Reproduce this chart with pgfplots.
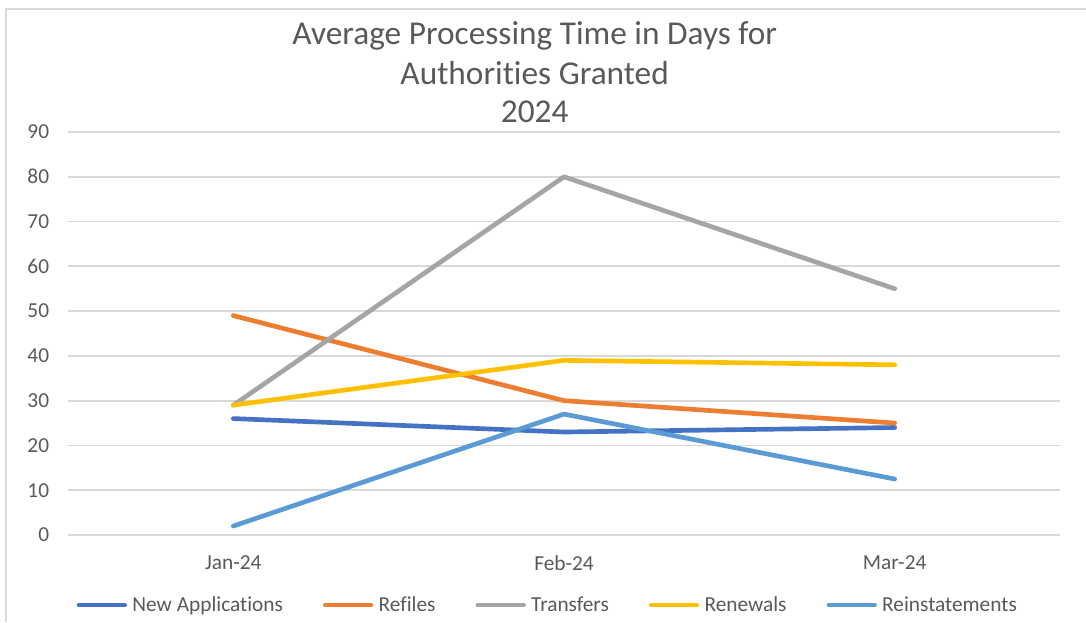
\documentclass[border=0pt]{standalone}
\usepackage{pgfplots}
\pgfplotsset{compat=1.18}
\usepackage{fontspec}
\setmainfont{Carlito}[Ligatures=NoCommon]
\definecolor{txt}{HTML}{595959}
\definecolor{gridc}{HTML}{D9D9D9}
\definecolor{cNew}{HTML}{4472C4}
\definecolor{cRef}{HTML}{ED7D31}
\definecolor{cTra}{HTML}{A5A5A5}
\definecolor{cRen}{HTML}{FFC000}
\definecolor{cRei}{HTML}{5B9BD5}
\begin{document}
\begin{tikzpicture}
\path[use as bounding box] (0,0) rectangle (814.5pt,466.5pt);
\draw[gridc, line width=1.5pt] (4.5pt,0) -- (4.5pt,459.75pt) -- (814.5pt,459.75pt);
\node[anchor=base, text=txt, font=\fontsize{25}{30}\selectfont] at (401pt,432.75pt) {Average Processing Time in Days for};
\node[anchor=base, text=txt, font=\fontsize{25}{30}\selectfont] at (401pt,402.75pt) {Authorities Granted};
\node[anchor=base, text=txt, font=\fontsize{25}{30}\selectfont] at (401pt,374.25pt) {2024};
\begin{axis}[
  at={(51pt,65.25pt)}, anchor=south west,
  scale only axis, width=744pt, height=302.25pt,
  xmin=-0.5, xmax=2.5, ymin=0, ymax=90,
  xtick={0,1,2}, xticklabels={Jan-24,Feb-24,Mar-24},
  ytick={0,10,...,90},
  major tick length=0pt,
  axis line style={draw=none},
  ymajorgrids, xmajorgrids=false,
  y grid style={color=gridc, line width=1.4pt},
  tick label style={text=txt, font=\fontsize{16}{19}\selectfont},
  /pgf/number format/assume math mode=true,
  yticklabel style={inner sep=0pt, anchor=east, xshift=-14pt},
  xticklabel style={inner sep=0pt, anchor=north, yshift=-15pt},
  legend columns=5,
  legend style={at={(0.484,-0.174)}, anchor=center, draw=none, fill=none,
    font=\fontsize{16}{19}\selectfont, text=txt,
    /tikz/every even column/.append style={column sep=28pt},
    /tikz/every odd column/.append style={column sep=2pt},
    inner sep=0pt},
  legend image code/.code={\draw[#1, line cap=round, line width=3.5pt] (1.75pt,0pt) -- (36pt,0pt);},
  every axis plot/.append style={line width=3.5pt, line cap=round, line join=round, mark=none},
]
\addplot[cNew] coordinates {(0,26) (1,23) (2,24)};
\addlegendentry{New Applications}
\addplot[cRef] coordinates {(0,49) (1,30) (2,25)};
\addlegendentry{Refiles}
\addplot[cTra] coordinates {(0,29) (1,80) (2,55)};
\addlegendentry{Transfers}
\addplot[cRen] coordinates {(0,29) (1,39) (2,38)};
\addlegendentry{Renewals}
\addplot[cRei] coordinates {(0,2) (1,27) (2,12.5)};
\addlegendentry{Reinstatements}
\end{axis}
\end{tikzpicture}
\end{document}
